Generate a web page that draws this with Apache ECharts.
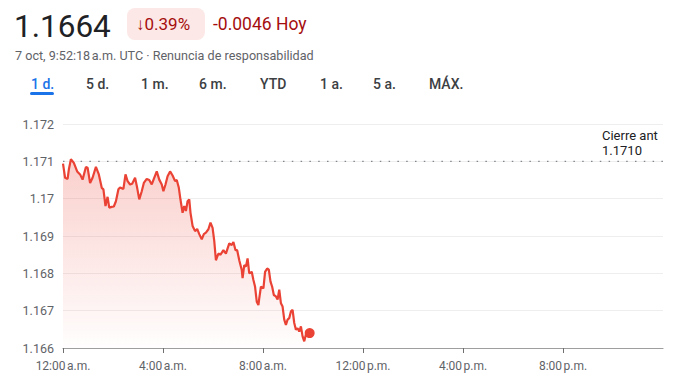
<!DOCTYPE html>
<html>
<head>
<meta charset="utf-8">
<script src="https://cdn.jsdelivr.net/npm/echarts@6/dist/echarts.min.js"></script>
<style>
html,body{margin:0;padding:0;background:#fff;}
#chart{width:696px;height:389px;}
</style>
</head>
<body>
<div id="chart"></div>
<script>
// ---- Data (minutes since 12:00 a.m., price) ----
const minutes = [0,5,11,14,19,26,34,41,47,55,59,65,71,79,86,93,97,102,107,111,117,122,127,133,137,145,150,155,161,166,173,178,183,189,194,201,207,213,218,225,231,237,241,246,251,257,263,269,273,278,282,287,291,295,299,303,306,311,317,322,327,333,338,343,349,354,359,363,367,373,378,385,391,399,405,409,414,418,423,429,431,435,439,443,447,453,457,461,465,469,471,475,481,485,490,494,498,502,506,511,515,519,523,527,531,535,539,543,547,551,555,559,563,567,571,575,579,583,586,592];
const prices = [1.17094,1.17056,1.17053,1.17078,1.17106,1.17096,1.17073,1.17065,1.17051,1.17085,1.17083,1.17042,1.17056,1.17085,1.17065,1.17029,1.17025,1.16980,1.17005,1.16976,1.16978,1.16979,1.16993,1.17025,1.17030,1.17026,1.17065,1.17047,1.17038,1.17040,1.17056,1.17029,1.16998,1.17020,1.17042,1.17053,1.17050,1.17038,1.17053,1.17073,1.17051,1.17038,1.17020,1.17038,1.17060,1.17073,1.17062,1.17047,1.17050,1.17029,1.16997,1.16962,1.16980,1.16967,1.16993,1.16998,1.16962,1.16927,1.16913,1.16919,1.16905,1.16891,1.16905,1.16909,1.16918,1.16936,1.16922,1.16887,1.16835,1.16853,1.16850,1.16862,1.16853,1.16880,1.16876,1.16884,1.16862,1.16862,1.16835,1.16809,1.16787,1.16822,1.16818,1.16840,1.16800,1.16804,1.16782,1.16764,1.16724,1.16715,1.16733,1.16764,1.16760,1.16804,1.16813,1.16810,1.16778,1.16764,1.16742,1.16738,1.16730,1.16756,1.16720,1.16711,1.16676,1.16662,1.16676,1.16680,1.16698,1.16702,1.16667,1.16649,1.16653,1.16644,1.16658,1.16631,1.16618,1.16636,1.16631,1.16640];
const prevClose = [1.1710];
const yTicks = [1.166, 1.167, 1.168, 1.169, 1.17, 1.171, 1.172];
const xTickMinutes = [0, 240, 480, 720, 960, 1200];
const xTickLabels = ['12:00\u202Fa.m.', '4:00\u202Fa.m.', '8:00\u202Fa.m.', '12:00\u202Fp.m.', '4:00\u202Fp.m.', '8:00\u202Fp.m.'];
const tabs = ['1 d.', '5 d.', '1 m.', '6 m.', 'YTD', '1 a.', '5 a.', 'MÁX.'];
const header = {
  price: '1.1664',
  pct: '\u21930.39%',
  change: '-0.0046 Hoy',
  sub: '7 oct, 9:52:18\u202Fa.m. UTC · Renuncia de responsabilidad',
  prevLabel: 'Cierre ant',
  prevValue: '1.1710'
};

const dayEnd = 1440;
const lineData = minutes.map((m, i) => [m, prices[i]]);
const last = lineData[lineData.length - 1];

const tabX = [31, 86, 141, 199, 260, 320, 373, 429];
const graphics = [
  {type:'text', style:{text:header.price, x:14, y:26, font:'400 31.5px Roboto', fill:'#202124', textVerticalAlign:'middle', verticalAlign:'middle'}},
  {type:'rect', shape:{x:127, y:8, width:78, height:32, r:8}, style:{fill:'#fce8e6'}},
  {type:'text', style:{text:header.pct, x:136, y:24, font:'400 17px Roboto', fill:'#a50e0e', textVerticalAlign:'middle', verticalAlign:'middle'}},
  {type:'text', style:{text:header.change, x:213, y:24, font:'400 17.5px Roboto', fill:'#a50e0e', textVerticalAlign:'middle', verticalAlign:'middle'}},
  {type:'text', style:{text:header.sub, x:15, y:55, font:'400 12.6px Roboto', fill:'#5f6368', textVerticalAlign:'middle', verticalAlign:'middle'}},
  {type:'rect', shape:{x:30, y:92, width:24, height:3, r:1.5}, style:{fill:'#1a73e8'}},
  {type:'text', style:{text:header.prevLabel, x:602, y:135.5, font:'400 13px Roboto', fill:'#202124', textVerticalAlign:'middle', verticalAlign:'middle'}},
  {type:'text', style:{text:header.prevValue, x:602, y:150.5, font:'400 13px Roboto', fill:'#202124', textVerticalAlign:'middle', verticalAlign:'middle'}}
];
tabs.forEach((t, i) => {
  graphics.push({type:'text', style:{text:t, x:tabX[i], y:84, font:'500 14px Roboto', fill: i === 0 ? '#1a73e8' : '#3c4043', textVerticalAlign:'middle', verticalAlign:'middle'}});
});

const chart = echarts.init(document.getElementById('chart'), null, {renderer:'svg'});
chart.setOption({
  animation:false,
  backgroundColor:'#ffffff',
  grid:{left:63, right:33, top:124, bottom:41, containLabel:false},
  xAxis:{
    type:'value', min:0, max:dayEnd, interval:240,
    axisLine:{show:true, lineStyle:{color:'#9e9e9e', width:1.2}},
    axisTick:{show:true, length:5, customValues:xTickMinutes, lineStyle:{color:'#6f6f6f', width:1}},
    axisLabel:{show:true, margin:12, customValues:xTickMinutes, fontFamily:'Roboto', fontSize:12, color:'#5f6368',
      formatter:(v) => { const i = xTickMinutes.indexOf(Math.round(v)); return i >= 0 ? xTickLabels[i] : ''; }},
    splitLine:{show:false}
  },
  yAxis:{
    type:'value', min:yTicks[0], max:yTicks[yTicks.length-1], interval:0.001,
    axisLine:{show:false}, axisTick:{show:false},
    axisLabel:{margin:9, fontFamily:'Roboto', fontSize:12.5, color:'#5f6368', formatter:(v) => String(+v.toFixed(3))},
    splitLine:{show:true, lineStyle:{color:'#eeeeee', width:1}}
  },
  graphic:graphics,
  series:[
    {
      type:'line', data:[[0, prevClose[0]], [dayEnd, prevClose[0]]], showSymbol:false, symbol:'none', silent:true,
      lineStyle:{color:'#80868b', type:[1.5,7.3], width:1.3}, z:2
    },
    {
      type:'line', data:lineData, showSymbol:false, symbol:'none',
      lineStyle:{color:'#ea4335', width:2.2}, itemStyle:{color:'#ea4335'},
      areaStyle:{color:new echarts.graphic.LinearGradient(0,0,0,1,[
        {offset:0, color:'rgba(234,67,53,0.36)'},
        {offset:1, color:'rgba(234,67,53,0.01)'}
      ])},
      z:3
    },
    {
      type:'scatter', data:[last], symbol:'circle', symbolSize:10,
      itemStyle:{color:'#ea4335', opacity:1}, z:4
    }
  ]
});
</script>
</body>
</html>
